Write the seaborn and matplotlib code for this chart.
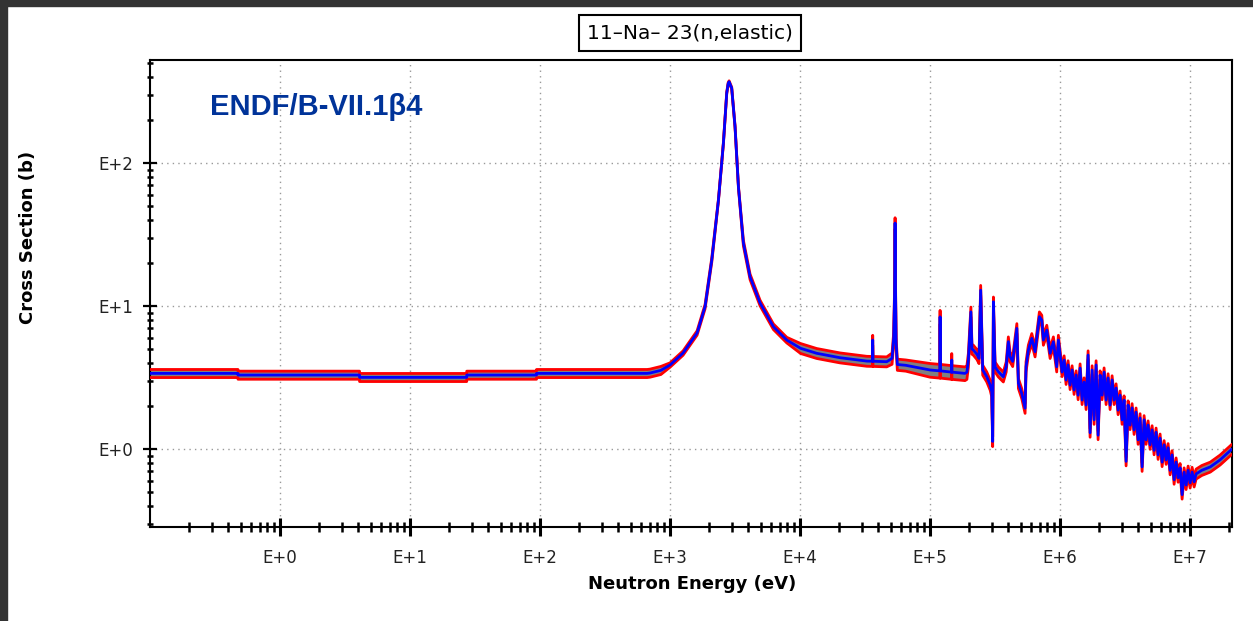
import numpy as np
import matplotlib
matplotlib.use("Agg")
import matplotlib.pyplot as plt
import matplotlib.ticker as mticker
from matplotlib.patches import Rectangle
import seaborn as sns

# evaluated elastic cross section (eV, barn)
energy = [
    0.1, 0.475, 0.475, 4.09, 4.09, 27.3, 27.3, 94.0, 94.0, 666,
    702, 850, 1000, 1259, 1614, 1859, 2094, 2356, 2573, 2729, 2800, 2845,
    2900, 2980, 3162, 3357, 3665, 4125, 4924, 6237, 7904, 10100, 13430,
    20300, 32600, 36000, 36200, 36400, 46400, 51000, 52500, 53300, 53800,
    54200, 54800, 56000, 65000, 100000, 119000, 119400, 119800,
    146500, 146800, 147100, 185800, 192000, 197000, 206000, 210000, 215000,
    229000, 238000, 245000, 254000, 273000, 290000, 298000, 303000, 307000,
    316000, 335000, 366000, 385000, 400000, 412000, 432000, 465000, 478000,
    507000, 538000, 547000, 570000, 606000, 642000, 693000, 723000, 744000,
    790000, 838000, 888000, 942000, 970000,
    1.036e6, 1.074e6, 1.112e6, 1.152e6, 1.194e6, 1.237e6, 1.281e6, 1.328e6,
    1.376e6, 1.425e6, 1.476e6, 1.530e6, 1.585e6, 1.642e6, 1.701e6, 1.763e6,
    1.826e6, 1.892e6, 1.960e6, 2.031e6, 2.104e6, 2.180e6, 2.259e6, 2.340e6,
    2.424e6, 2.512e6, 2.602e6, 2.696e6, 2.793e6, 2.894e6, 2.998e6, 3.106e6,
    3.218e6, 3.334e6, 3.454e6, 3.579e6, 3.708e6, 3.841e6, 3.981e6, 4.124e6,
    4.273e6, 4.427e6, 4.586e6, 4.752e6, 4.923e6, 5.101e6, 5.284e6, 5.475e6,
    5.672e6, 5.877e6, 6.089e6, 6.310e6, 6.537e6, 6.773e6, 7.017e6, 7.270e6,
    7.532e6, 7.804e6, 8.085e6, 8.377e6, 8.679e6, 8.992e6, 9.316e6, 9.652e6,
    1.000e7, 1.036e7, 1.074e7, 1.112e7, 1.23e7, 1.43e7, 1.70e7, 2.10e7,
]
xs = [
    3.38, 3.38, 3.29, 3.29, 3.17, 3.17, 3.29, 3.29, 3.38, 3.38,
    3.40, 3.55, 3.87, 4.69, 6.48, 9.9, 21.0, 55.0, 138.0, 309.0, 360.0, 370.0,
    355.0, 334.0, 179.0, 68.0, 27.6, 16.0, 10.5, 7.17, 5.78, 5.06, 4.67,
    4.35, 4.12, 4.11, 5.78, 4.11, 4.08, 4.3, 6.0, 12.0, 38.0,
    14.0, 5.5, 3.9, 3.85, 3.57, 3.52, 8.4, 3.52,
    3.45, 4.19, 3.45, 3.38, 3.45, 4.2, 9.1, 5.0, 4.93,
    4.6, 4.3, 12.9, 3.57, 3.2, 2.8, 2.52, 1.13, 10.7,
    3.76, 3.47, 3.2, 3.76, 5.63, 4.42, 4.1, 6.97, 2.88,
    2.45, 1.93, 3.76, 4.93, 5.94, 4.79, 8.42, 7.98, 5.78,
    6.79, 4.67, 5.63, 3.76, 5.78,
    3.45, 4.19, 3.04, 3.87, 2.80, 3.57, 2.59, 3.29,
    2.38, 3.68, 2.20, 2.94, 2.03, 4.54, 1.30, 3.57,
    1.60, 3.87, 1.25, 3.29, 2.38, 3.45, 2.20, 3.14,
    2.03, 3.04, 2.20, 2.67, 1.87, 2.38, 1.60, 2.20,
    0.82, 2.03, 1.47, 1.94, 1.36, 1.81, 1.16, 1.65,
    0.75, 1.60, 1.16, 1.47, 1.07, 1.36, 0.98, 1.31,
    0.91, 1.19, 0.81, 1.07, 0.84, 1.02, 0.71, 0.91,
    0.61, 0.81, 0.63, 0.74, 0.48, 0.69, 0.56, 0.71,
    0.58, 0.69, 0.59, 0.67, 0.71, 0.75, 0.84, 1.0,
]

# relative uncertainty per covariance energy group
unc_edges = [0.1, 1.0e3, 2.2e3, 3.5e3, 1.0e4, 5.0e4, 1.0e5, 2.0e5, 1.0e6, 1.0e7, 2.2e7]
unc_rel = [0.065, 0.035, 0.015, 0.045, 0.08, 0.09, 0.11, 0.08, 0.07, 0.08]

x_ticks = [1e0, 1e1, 1e2, 1e3, 1e4, 1e5, 1e6, 1e7]
x_labels = ["E+0", "E+1", "E+2", "E+3", "E+4", "E+5", "E+6", "E+7"]
y_ticks = [1e0, 1e1, 1e2]
y_labels = ["E+0", "E+1", "E+2"]

sns.set_style("white")
plt.rcParams["font.family"] = ["DejaVu Sans"]
plt.rcParams["text.color"] = "black"

e = np.array(energy)
s = np.array(xs)
grp = np.clip(np.searchsorted(unc_edges, e, side="right") - 1, 0, len(unc_rel) - 1)
u = np.array(unc_rel)[grp]
upper = s * (1 + u)
lower = s * (1 - u)

fig = plt.figure(figsize=(12.53, 6.21), dpi=100)
ax = fig.add_axes([150 / 1253, 1 - 527 / 621, (1232 - 150) / 1253, (527 - 60) / 621])
ax.set_xscale("log")
ax.set_yscale("log")

ax.fill_between(e, lower, upper, color="#808080", lw=0, zorder=2)
sns.lineplot(x=e, y=upper, sort=False, estimator=None, color="#ff0000", lw=2.0, ax=ax, zorder=3)
sns.lineplot(x=e, y=lower, sort=False, estimator=None, color="#ff0000", lw=2.0, ax=ax, zorder=3)
sns.lineplot(x=e, y=s, sort=False, estimator=None, color="#0000ff", lw=2.0, ax=ax, zorder=4)

ax.set_xlim(0.1, 2.1e7)
ax.set_ylim(0.285, 525)

ax.set_xticks(x_ticks)
ax.set_xticklabels(x_labels)
ax.set_yticks(y_ticks)
ax.set_yticklabels(y_labels)
ax.xaxis.set_minor_locator(mticker.LogLocator(base=10, subs=np.arange(2, 10), numticks=50))
ax.yaxis.set_minor_locator(mticker.LogLocator(base=10, subs=np.arange(2, 10), numticks=50))
ax.xaxis.set_minor_formatter(mticker.NullFormatter())
ax.yaxis.set_minor_formatter(mticker.NullFormatter())

ax.tick_params(which="both", bottom=True, left=True, top=False, right=False, color="black")
ax.tick_params(axis="x", which="major", direction="inout", length=13, width=2.2,
               labelsize=12, pad=9, labelcolor="#222222")
ax.tick_params(axis="x", which="minor", direction="inout", length=7, width=1.8)
ax.tick_params(axis="y", which="major", direction="inout", length=10, width=1.6,
               labelsize=12, pad=7, labelcolor="#222222")
ax.tick_params(axis="y", which="minor", direction="inout", length=5, width=1.8)

ax.grid(True, which="major", ls=(0, (1, 3)), color="#999999", lw=1.0)
ax.set_axisbelow(True)
for side in ["left", "bottom", "top", "right"]:
    ax.spines[side].set_visible(True)
    ax.spines[side].set_color("black")
    ax.spines[side].set_linewidth(1.5)
ax.set_xlabel("")
ax.set_ylabel("")

fig.text(690 / 1253, 1 - 33 / 621, "11\u2013Na\u2013 23(n,elastic)", ha="center", va="center",
         fontsize=14.5, color="black",
         bbox=dict(boxstyle="square,pad=0.4", fc="white", ec="black", lw=1.5))
fig.text(210 / 1253, 1 - 107 / 621, "ENDF/B-VII.1\u03b24", ha="left", va="center",
         fontsize=21, weight="bold", color="#003399", family="Liberation Sans")
fig.text(28 / 1253, 1 - 237 / 621, "Cross Section (b)", rotation=90, ha="center",
         va="center", fontsize=13, weight="bold", color="black")
fig.text(692 / 1253, 1 - 584 / 621, "Neutron Energy (eV)", ha="center", va="center",
         fontsize=13, weight="bold", color="black")

# dark window frame on top and left
fig.add_artist(Rectangle((0, 1 - 6 / 621), 1, 6 / 621, transform=fig.transFigure,
                         color="#333333", zorder=10))
fig.add_artist(Rectangle((0, 0), 7 / 1253, 1, transform=fig.transFigure,
                         color="#333333", zorder=10))

fig.savefig("out.png", dpi=100)
